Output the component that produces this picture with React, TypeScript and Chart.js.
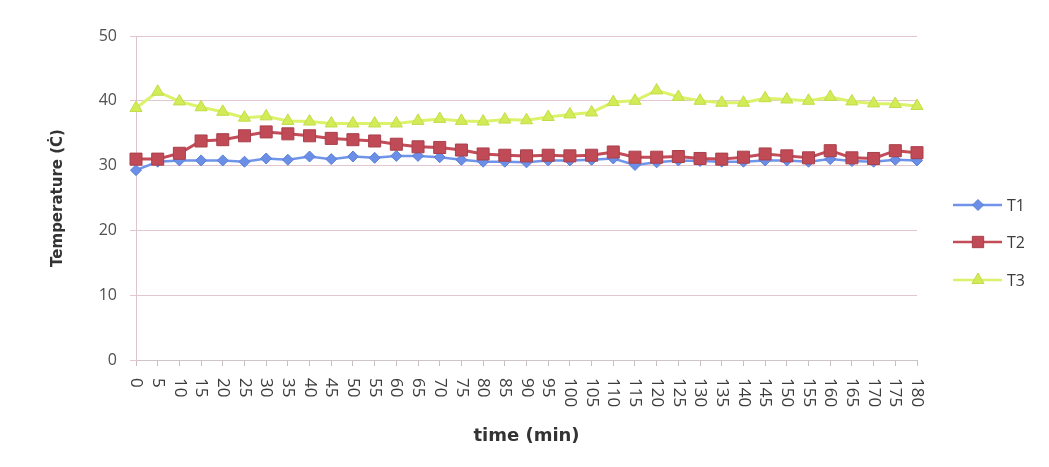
import React, { useEffect, useRef } from "react";
import { Chart, registerables } from "chart.js";

Chart.register(...registerables);

// Sampling times (min)
const times = [
  "0", "5", "10", "15", "20", "25", "30", "35", "40", "45", "50", "55", "60",
  "65", "70", "75", "80", "85", "90", "95", "100", "105", "110", "115", "120",
  "125", "130", "135", "140", "145", "150", "155", "160", "165", "170", "175", "180",
];

// Temperature readings (°C)
const t1 = [
  29.3, 30.6, 30.8, 30.8, 30.8, 30.6, 31.1, 30.9, 31.4, 31.0, 31.4, 31.2, 31.5,
  31.5, 31.3, 30.9, 30.6, 30.6, 30.5, 30.8, 30.8, 30.9, 31.1, 30.1, 30.5, 30.8,
  30.7, 30.6, 30.6, 30.8, 30.8, 30.6, 31.0, 30.7, 30.6, 30.9, 30.8,
];
const t2 = [
  31.0, 31.0, 31.9, 33.8, 34.0, 34.6, 35.2, 34.9, 34.6, 34.2, 34.0, 33.8, 33.3,
  32.9, 32.8, 32.4, 31.8, 31.6, 31.5, 31.6, 31.5, 31.6, 32.1, 31.3, 31.3, 31.4,
  31.1, 31.0, 31.3, 31.8, 31.5, 31.2, 32.3, 31.2, 31.1, 32.3, 32.0,
];
const t3 = [
  38.9, 41.4, 39.9, 39.0, 38.3, 37.4, 37.6, 36.9, 36.8, 36.5, 36.5, 36.5, 36.5,
  36.9, 37.2, 36.9, 36.8, 37.1, 37.0, 37.5, 37.9, 38.2, 39.8, 40.0, 41.6, 40.6,
  40.0, 39.7, 39.7, 40.4, 40.2, 40.0, 40.6, 39.9, 39.6, 39.5, 39.2,
];

const yTicks = [0, 10, 20, 30, 40, 50];

const FONT = "'Open Sans', 'DejaVu Sans', sans-serif";
const TITLE_FONT = "'DejaVu Sans', sans-serif";

const seriesStyle = [
  { label: "T1", data: t1, line: "#7094ea", fill: "#6b8ee6", edge: "#5a7fd8", shape: "rectRot", radius: 5.5, width: 2.5 },
  { label: "T2", data: t2, line: "#c44b58", fill: "#c04a56", edge: "#a8404c", shape: "rect", radius: 8.5, width: 3 },
  { label: "T3", data: t3, line: "#dbf26a", fill: "#d2ec58", edge: "#c2dc48", shape: "triangle", radius: 7, width: 3 },
];

function drawMarker(ctx: CanvasRenderingContext2D, shape: string, x: number, y: number, r: number) {
  ctx.beginPath();
  if (shape === "rectRot") {
    ctx.moveTo(x, y - r);
    ctx.lineTo(x + r, y);
    ctx.lineTo(x, y + r);
    ctx.lineTo(x - r, y);
  } else if (shape === "rect") {
    const s = r * Math.SQRT1_2;
    ctx.rect(x - s, y - s, 2 * s, 2 * s);
  } else {
    const half = (r * Math.sqrt(3)) / 2;
    ctx.moveTo(x, y - r);
    ctx.lineTo(x + half, y + r / 2);
    ctx.lineTo(x - half, y + r / 2);
  }
  ctx.closePath();
  ctx.fill();
  ctx.stroke();
}

// Vertical category labels reading top to bottom, plus the side legend
const decorations = {
  id: "decorations",
  afterDraw(chart: any) {
    const { ctx } = chart;
    const xs = chart.scales.x;
    ctx.save();
    ctx.font = `17px ${FONT}`;
    ctx.fillStyle = "#3c3c3c";
    ctx.textAlign = "left";
    ctx.textBaseline = "middle";
    const labels: string[] = chart.data.labels;
    labels.forEach((lab, i) => {
      const px = xs.getPixelForTick(i);
      ctx.save();
      ctx.translate(px, chart.chartArea.bottom + 18);
      ctx.rotate(Math.PI / 2);
      ctx.fillText(lab, 0, 0);
      ctx.restore();
    });
    ctx.restore();

    const rows = [205, 242, 280];
    ctx.save();
    seriesStyle.forEach((s, i) => {
      const y = rows[i];
      ctx.strokeStyle = s.line;
      ctx.lineWidth = 2.5;
      ctx.beginPath();
      ctx.moveTo(953, y);
      ctx.lineTo(1002, y);
      ctx.stroke();
      ctx.fillStyle = s.fill;
      ctx.strokeStyle = s.edge;
      ctx.lineWidth = 1;
      drawMarker(ctx, s.shape, 978, y, s.shape === "rect" ? 8 : s.radius);
      ctx.fillStyle = "#3c3c3c";
      ctx.font = `16px ${FONT}`;
      ctx.textAlign = "left";
      ctx.textBaseline = "middle";
      ctx.fillText(s.label, 1007, y + 1);
    });
    ctx.restore();
  },
};

export default function App() {
  const canvasRef = useRef<HTMLCanvasElement | null>(null);

  useEffect(() => {
    const canvas = canvasRef.current;
    if (!canvas) return;
    const chart = new Chart(canvas, {
      type: "line",
      data: {
        labels: times,
        datasets: seriesStyle.map((s, i) => ({
          label: s.label,
          data: s.data,
          borderColor: s.line,
          backgroundColor: s.fill,
          borderWidth: s.width,
          pointStyle: s.shape as any,
          pointRadius: s.radius,
          pointBackgroundColor: s.fill,
          pointBorderColor: s.edge,
          pointBorderWidth: 1,
          tension: 0,
          order: [2, 1, 0][i],
        })),
      },
      options: {
        responsive: false,
        animation: false,
        devicePixelRatio: 1,
        layout: { padding: { left: 0, top: 36, right: 132, bottom: 0 } },
        plugins: {
          legend: { display: false },
          tooltip: { enabled: false },
        },
        scales: {
          x: {
            offset: false,
            grid: {
              display: true,
              drawOnChartArea: false,
              drawTicks: true,
              tickLength: 6,
              color: "#c8c0c0",
            },
            border: { display: true, color: "#cfc4c6", width: 1 },
            ticks: { display: false, autoSkip: false },
            title: {
              display: true,
              text: "time (min)",
              color: "#333333",
              font: { family: TITLE_FONT, size: 18, weight: "bold" },
              padding: { top: 0, bottom: 20 },
            },
            afterFit: (s: any) => {
              s.height = 107;
            },
          },
          y: {
            min: 0,
            max: 50,
            afterBuildTicks: (s: any) => {
              s.ticks = yTicks.map((v) => ({ value: v }));
            },
            grid: {
              color: "#e2c8ce",
              drawTicks: true,
              tickLength: 6,
              lineWidth: 1,
            },
            border: { display: true, color: "#dcc6cc", width: 1 },
            ticks: {
              color: "#505050",
              padding: 13,
              font: { family: FONT, size: 16 },
            },
            title: {
              display: true,
              text: "Temperature (Ċ)",
              color: "#333333",
              font: { family: TITLE_FONT, size: 15, weight: "bold" },
              padding: { top: 49, bottom: 0 },
            },
            afterFit: (s: any) => {
              s.width = 136;
            },
          },
        },
      },
      plugins: [decorations],
    });
    return () => chart.destroy();
  }, []);

  return (
    <div
      style={{
        position: "fixed",
        left: 0,
        top: 0,
        width: 1049,
        height: 467,
        background: "#ffffff",
      }}
    >
      <canvas ref={canvasRef} width={1049} height={467} style={{ width: 1049, height: 467 }} />
    </div>
  );
}
